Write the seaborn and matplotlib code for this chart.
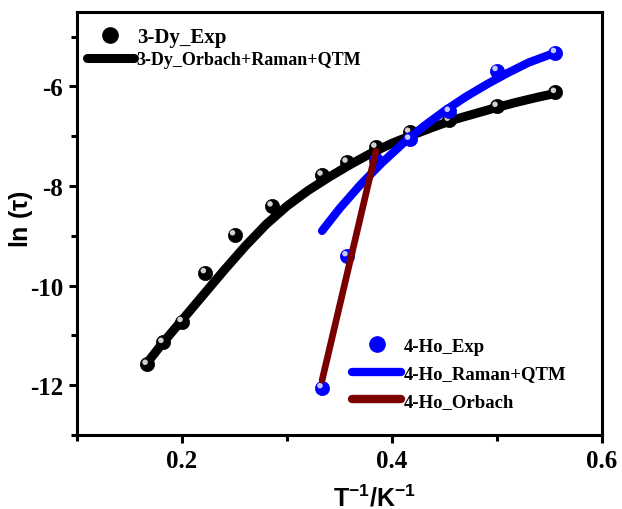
import numpy as np
import pandas as pd
import matplotlib
matplotlib.use("Agg")
import matplotlib.pyplot as plt
import matplotlib.transforms as mtransforms
from matplotlib.lines import Line2D
import seaborn as sns

# ---------------- data ----------------
dy_exp_x = [0.1667, 0.1818, 0.2000, 0.2222, 0.2500, 0.2857, 0.3333, 0.3571, 0.3846, 0.4167, 0.4545, 0.5000, 0.5556]
dy_exp_y = [-11.58, -11.14, -10.72, -9.74, -8.98, -8.40, -7.78, -7.52, -7.22, -6.92, -6.68, -6.40, -6.12]

dy_fit_x = [0.1664, 0.18, 0.20, 0.22, 0.24, 0.26, 0.28, 0.30, 0.32, 0.34, 0.36, 0.38,
            0.40, 0.42, 0.44, 0.46, 0.48, 0.50, 0.52, 0.54, 0.5556]
dy_fit_y = [-11.56, -11.19, -10.69, -10.19, -9.69, -9.21, -8.77, -8.40, -8.09, -7.82, -7.57, -7.34,
            -7.14, -6.97, -6.81, -6.66, -6.54, -6.42, -6.31, -6.21, -6.14]

ho_exp_x = [0.3333, 0.3571, 0.3846, 0.4167, 0.4545, 0.5000, 0.5556]
ho_exp_y = [-12.05, -9.40, -7.48, -7.06, -6.50, -5.68, -5.32]

ho_raman_x = [0.3333, 0.35, 0.37, 0.39, 0.41, 0.43, 0.45, 0.47, 0.49, 0.51, 0.53, 0.5556]
ho_raman_y = [-8.90, -8.45, -7.97, -7.54, -7.15, -6.80, -6.49, -6.21, -5.96, -5.73, -5.52, -5.32]

ho_orbach_x = [0.3333, 0.3846]
ho_orbach_y = [-11.90, -7.30]

x_ticks = [0.2, 0.4, 0.6]
y_ticks = [-12, -10, -8, -6]

# ---------------- style ----------------
sns.set_style("ticks")
plt.rcParams["font.family"] = ["Liberation Serif", "DejaVu Serif"]
plt.rcParams["font.weight"] = "bold"
plt.rcParams["mathtext.fontset"] = "custom"
plt.rcParams["mathtext.rm"] = "Liberation Sans:bold"
plt.rcParams["mathtext.bf"] = "Liberation Sans:bold"
plt.rcParams["mathtext.default"] = "bf"
for k in ["axes.edgecolor", "xtick.color", "ytick.color", "text.color",
          "axes.labelcolor", "xtick.labelcolor", "ytick.labelcolor"]:
    plt.rcParams[k] = "black"

fig = plt.figure(figsize=(6.22, 5.10), dpi=100)
ax = fig.add_axes([0.124, 0.145, 0.844, 0.830])

dy_exp = pd.DataFrame({"x": dy_exp_x, "y": dy_exp_y})
dy_fit = pd.DataFrame({"x": dy_fit_x, "y": dy_fit_y})
ho_exp = pd.DataFrame({"x": ho_exp_x, "y": ho_exp_y})
ho_raman = pd.DataFrame({"x": ho_raman_x, "y": ho_raman_y})
ho_orb = pd.DataFrame({"x": ho_orbach_x, "y": ho_orbach_y})

hl = ax.transData + mtransforms.ScaledTranslation(-1.5 / 72, 1.5 / 72, fig.dpi_scale_trans)

sns.lineplot(data=dy_fit, x="x", y="y", sort=False, color="black", lw=6.5,
             solid_capstyle="round", solid_joinstyle="round", ax=ax, zorder=2)
sns.scatterplot(data=dy_exp, x="x", y="y", color="black", s=105, edgecolor="black",
                linewidth=0.5, ax=ax, zorder=3)
ax.scatter(dy_exp["x"], dy_exp["y"], s=16, color="#d0d0d0", edgecolor="none",
           transform=hl, zorder=4)

sns.lineplot(data=ho_raman, x="x", y="y", sort=False, color="#0000ff", lw=6,
             solid_capstyle="round", solid_joinstyle="round", ax=ax, zorder=5)
sns.scatterplot(data=ho_exp, x="x", y="y", color="#0000ff", s=105, edgecolor="#0000ee",
                linewidth=0.5, ax=ax, zorder=6)
ax.scatter(ho_exp["x"], ho_exp["y"], s=16, color="#c8c8ff", edgecolor="none",
           transform=hl, zorder=7)

sns.lineplot(data=ho_orb, x="x", y="y", sort=False, color="#7a0000", lw=4.8,
             solid_capstyle="round", ax=ax, zorder=8)

# ---------------- axes ----------------
ax.set_xlim(0.1, 0.6)
ax.set_ylim(-13, -4.5)
ax.set_xticks(x_ticks)
ax.set_yticks(y_ticks)
ax.set_xticklabels([f"{v:.1f}" for v in x_ticks])
ax.set_yticklabels([f"{v:d}" for v in y_ticks])
ax.xaxis.set_minor_locator(matplotlib.ticker.MultipleLocator(0.1))
ax.yaxis.set_minor_locator(matplotlib.ticker.MultipleLocator(1))
for s in ax.spines.values():
    s.set_linewidth(2.2)
    s.set_color("black")
    s.set_visible(True)
ax.tick_params(which="major", direction="out", length=6, width=2.2,
               labelsize=18, top=False, right=False, pad=4, color="black")
ax.tick_params(which="minor", direction="out", length=4, width=2.2, top=False,
               right=False, color="black")
for lab in ax.get_xticklabels() + ax.get_yticklabels():
    lab.set_fontweight("bold")

ax.set_xlabel(r"T$^{-1}$/K$^{-1}$", fontsize=18, fontweight="bold",
              family="Liberation Sans")
ax.set_ylabel(r"ln ($\tau$)", fontsize=18, fontweight="bold", family="Liberation Sans")
ax.xaxis.set_label_coords(0.566, -0.115)
ax.yaxis.set_label_coords(-0.081, 0.513)

# ---------------- legends ----------------
h_dy_exp = Line2D([], [], ls="none", marker="o", ms=11, color="black")
h_dy_fit = Line2D([], [], color="black", lw=6.5, solid_capstyle="round")
leg1 = ax.legend([h_dy_exp, h_dy_fit], ["3-Dy_Exp", "3-Dy_Orbach+Raman+QTM"],
                 loc="upper left", bbox_to_anchor=(0.005, 0.982), frameon=False,
                 handlelength=2.6, handletextpad=0.15, labelspacing=0.25,
                 borderaxespad=0, prop={"family": "Liberation Serif", "weight": "bold", "size": 13})
leg1.get_texts()[0].set_fontsize(15)
ax.add_artist(leg1)

h_ho_exp = Line2D([], [], ls="none", marker="o", ms=11, color="#0000ff")
h_ho_ram = Line2D([], [], color="#0000ff", lw=6, solid_capstyle="round")
h_ho_orb = Line2D([], [], color="#7a0000", lw=6, solid_capstyle="round")
leg2 = ax.legend([h_ho_exp, h_ho_ram, h_ho_orb], ["4-Ho_Exp", "4-Ho_Raman+QTM", "4-Ho_Orbach"],
                 loc="upper left", bbox_to_anchor=(0.51, 0.248), frameon=False,
                 handlelength=2.6, handletextpad=0.15, labelspacing=0.55,
                 borderaxespad=0, prop={"family": "Liberation Serif", "weight": "bold", "size": 13.5})

fig.savefig("out.png", dpi=100)
